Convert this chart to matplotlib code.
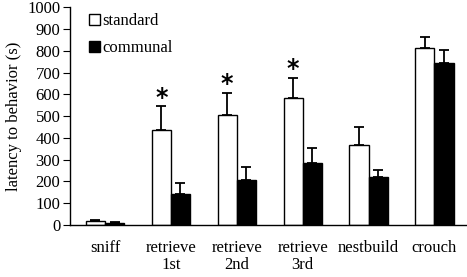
import matplotlib.pyplot as plt
import numpy as np
from matplotlib.patches import Patch

plt.rcParams['font.family'] = ['Liberation Serif', 'DejaVu Serif']

behaviors = ["sniff", "retrieve\n1st", "retrieve\n2nd", "retrieve\n3rd", "nestbuild", "crouch"]
standard = [17, 438, 504, 581, 365, 814]
standard_err = [5, 106, 103, 93, 83, 49]
communal = [10, 143, 207, 284, 218, 745]
communal_err = [4, 51, 59, 69, 35, 57]
significant = [False, True, True, True, False, False]

x = np.arange(len(behaviors))
w = 0.29

fig = plt.figure(figsize=(4.67, 2.77), dpi=100)
ax = fig.add_axes([0.150, 0.188, 0.848, 0.786])

err_kw = dict(ecolor="black", elinewidth=1.3, capsize=3.5, capthick=1.3)
ax.bar(x - w / 2, standard, w, color="white", edgecolor="black", linewidth=1.0,
       yerr=[np.zeros(len(x)), standard_err], error_kw=err_kw)
ax.bar(x + w / 2, communal, w, color="black", edgecolor="black", linewidth=1.0,
       yerr=[np.zeros(len(x)), communal_err], error_kw=err_kw)

for xi, s, e, sig in zip(x, standard, standard_err, significant):
    if sig:
        ax.text(xi - w / 2, s + e - 14, "*", ha="center", va="bottom",
                fontsize=17, fontweight="bold", family="DejaVu Sans")

ax.set_xlim(-0.53, 5.48)
ax.set_ylim(0, 1000)
ax.set_yticks(np.arange(0, 1001, 100))
ax.set_xticks(x)
ax.set_xticklabels(behaviors, fontsize=12, linespacing=1.1)
ax.tick_params(axis="x", length=0, pad=11)
ax.tick_params(axis="y", direction="out", length=5, labelsize=12, pad=2)
ax.set_ylabel("latency to behavior (s)", fontsize=12, labelpad=4)
for side in ["top", "right"]:
    ax.spines[side].set_visible(False)
for side in ["left", "bottom"]:
    ax.spines[side].set_linewidth(1.0)

handles = [Patch(facecolor="white", edgecolor="black", label="standard"),
           Patch(facecolor="black", edgecolor="black", label="communal")]
ax.legend(handles=handles, loc="upper left", bbox_to_anchor=(0.01, 1.04), frameon=False,
          fontsize=12, handlelength=0.65, handleheight=0.65, handletextpad=0.15,
          labelspacing=0.65)

fig.savefig("out.png", dpi=100)
